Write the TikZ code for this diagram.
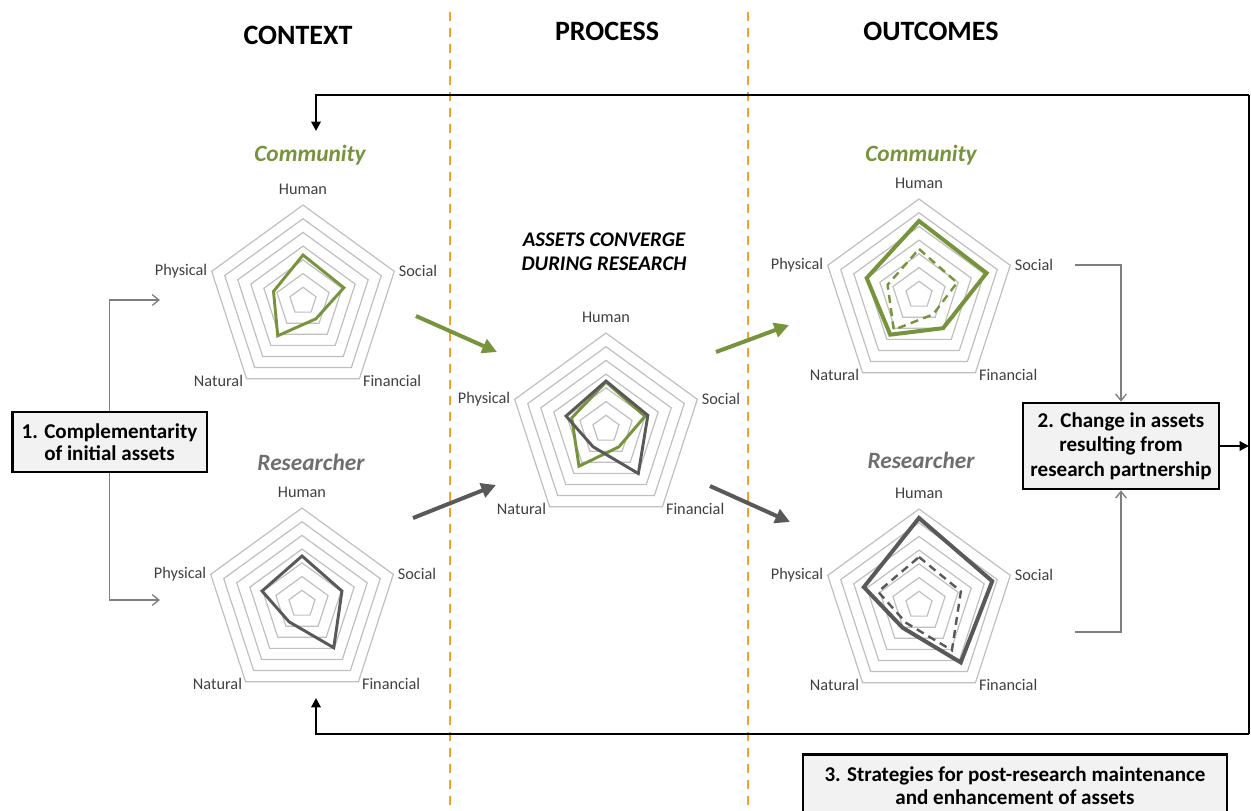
\documentclass[tikz,border=0pt]{standalone}
\usepackage{fontspec}
\setmainfont{Carlito}
\usetikzlibrary{arrows.meta,calc}

\definecolor{olive}{HTML}{77933C}
\definecolor{slate}{HTML}{595959}
\definecolor{ringgray}{HTML}{BFBFBF}
\definecolor{labelgray}{HTML}{404040}
\definecolor{titlegray}{HTML}{6E6E6E}
\definecolor{divorange}{HTML}{F7A032}
\definecolor{boxfill}{HTML}{F2F2F2}
\definecolor{linkgray}{HTML}{7F7F7F}

% radius of a radar chart and of one grid step (px)
\newcommand{\chartR}{96}
\newcommand{\chartU}{13.714}

\tikzset{
  ringline/.style={draw=ringgray, line width=0.9pt},
  axislabel/.style={font=\fontsize{12.2}{14}\selectfont, text=labelgray, inner sep=1pt},
  charttitle/.style={font=\fontsize{17.5}{20}\selectfont\bfseries\itshape},
  heading/.style={font=\fontsize{21}{24}\selectfont\bfseries},
  stagebox/.style={draw=black, line width=2pt, fill=boxfill, align=center, inner sep=2pt},
  link/.style={draw=linkgray, line width=1pt, -{Straight Barb[length=5pt,width=8pt]}},
  loopline/.style={draw=black, line width=1.5pt},
  looparrow/.style={loopline, -{Triangle[length=7pt,width=7pt]}},
  bigarrow/.style={line width=3pt, -{Triangle[length=11pt,width=11pt]}},
  divider/.style={draw=divorange, line width=1.6pt, dash pattern=on 7pt off 5pt},
  initial/.style={line width=2.2pt},
  outcome/.style={line width=3pt},
  before/.style={line width=1.8pt, dash pattern=on 6pt off 4pt},
}

% pentagon grid with seven rings and its five axis labels
\newcommand{\radargrid}[3]{%
  \coordinate (#1) at (#2,#3);
  \foreach \k in {1,...,7}{%
    \draw[ringline] ($(#1)+(-90:{\k*\chartU})$) -- ($(#1)+(-18:{\k*\chartU})$)
      -- ($(#1)+(54:{\k*\chartU})$) -- ($(#1)+(126:{\k*\chartU})$)
      -- ($(#1)+(198:{\k*\chartU})$) -- cycle;}
  \node[axislabel] (#1-hum) at ($(#1)+(0,-\chartR-16)$) {Human};
  \node[axislabel, anchor=west] (#1-soc) at ($(#1)+(-18:\chartR)+(3,0)$) {Social};
  \node[axislabel, anchor=west] (#1-fin) at ($(#1)+(54:\chartR)+(2,2)$) {Financial};
  \node[axislabel, anchor=east] (#1-nat) at ($(#1)+(126:\chartR)+(-2,2)$) {Natural};
  \node[axislabel, anchor=east] (#1-phy) at ($(#1)+(198:\chartR)+(-3,0)$) {Physical};
}

% asset profile: style, chart, human, social, financial, natural, physical (px)
\newcommand{\assets}[7]{%
  \draw[#1] ($(#2)+(-90:#3)$) -- ($(#2)+(-18:#4)$) -- ($(#2)+(54:#5)$)
    -- ($(#2)+(126:#6)$) -- ($(#2)+(198:#7)$) -- cycle;}

\begin{document}
\begin{tikzpicture}[x=0.75pt, y=-0.75pt]
  \useasboundingbox (0,0) rectangle (1251,810);
  \clip (0,0) rectangle (1251,810);

  % column dividers
  \draw[divider] (450,12) -- (450,810);
  \draw[divider] (748,12) -- (748,810);

  % column headings
  \node[heading] (context) at (298,35) {CONTEXT};
  \node[heading] (process) at (607,31) {PROCESS};
  \node[heading] (outcomes) at (931,31) {OUTCOMES};

  % radar charts
  \radargrid{ctxC}{303}{301}
  \radargrid{ctxR}{302}{604}
  \radargrid{mid}{606}{429}
  \radargrid{outC}{919}{295}
  \radargrid{outR}{919}{605}

  \node[charttitle, text=olive] (ctxC-title) at (310,155) {Community};
  \node[charttitle, text=titlegray] (ctxR-title) at (311,462) {Researcher};
  \node[charttitle, text=olive] (outC-title) at (921,155) {Community};
  \node[charttitle, text=titlegray] (outR-title) at (921,460) {Researcher};
  \node[align=center, font=\fontsize{15.6}{18}\selectfont\bfseries\itshape] (converge) at (604,252)
    {ASSETS CONVERGE\\DURING RESEARCH};

  % asset profiles
  \assets{initial, olive}{ctxC}{46}{43}{22}{43}{31}
  \assets{initial, slate}{ctxR}{48}{42}{54}{22}{42}
  \assets{initial, olive}{mid}{47}{41}{22}{46}{36}
  \assets{initial, slate}{mid}{48}{44}{55}{22}{42}
  \assets{before, olive}{outC}{46}{40}{24}{43}{33}
  \assets{outcome, olive}{outC}{74}{71}{41}{49}{55}
  \assets{before, slate}{outR}{48}{44}{56}{22}{43}
  \assets{outcome, slate}{outR}{87}{77}{71}{28}{58}

  % movement between stages
  \coordinate (g1s) at (416,316); \coordinate (g1e) at (497,352);
  \coordinate (k1s) at (413,518); \coordinate (k1e) at (496,485);
  \coordinate (g2s) at (716,352); \coordinate (g2e) at (789,325);
  \coordinate (k2s) at (710,486); \coordinate (k2e) at (790,522);
  \draw[bigarrow, olive] (g1s) -- (g1e);
  \draw[bigarrow, slate] (k1s) -- (k1e);
  \draw[bigarrow, olive] (g2s) -- (g2e);
  \draw[bigarrow, slate] (k2s) -- (k2e);

  % stage boxes
  \node[stagebox, minimum width=146pt, minimum height=45pt,
        font=\fontsize{15.8}{16.5}\selectfont\bfseries] (box1) at (109.5,442)
    {1. Complementarity\\of initial assets};
  \node[stagebox, minimum width=147pt, minimum height=64.5pt,
        font=\fontsize{15.8}{18.5}\selectfont\bfseries] (box2) at (1121,446)
    {2. Change in assets\\resulting from\\research partnership};
  \node[stagebox, anchor=north, minimum width=318pt, minimum height=46.5pt,
        font=\fontsize{15.8}{17.3}\selectfont\bfseries] (box3) at (1015,753)
    {3. Strategies for post-research maintenance\\and enhancement of assets};

  % links from box 1 to the initial charts
  \coordinate (ctxC-in) at (160,300);
  \coordinate (ctxR-in) at (160,600);
  \draw[link] (box1.north) |- (ctxC-in);
  \draw[link] (box1.south) |- (ctxR-in);

  % links from the outcome charts to box 2
  \coordinate (outC-out) at (1075,265);
  \coordinate (outR-out) at (1075,632);
  \draw[link] (outC-out) -| (box2.north);
  \draw[link] (outR-out) -| (box2.south);

  % feedback loop
  \coordinate (loopTR) at (1249,95);
  \coordinate (loopBR) at (1249,734);
  \coordinate (ctxC-top) at (316,131);
  \coordinate (ctxR-bot) at (316,698);
  \draw[loopline] (loopTR) -- (loopBR);
  \draw[looparrow] (loopTR) -| (ctxC-top);
  \draw[looparrow] (loopBR) -| (ctxR-bot);
  \draw[looparrow] (box2.east) -- (box2.east -| loopTR);
\end{tikzpicture}
\end{document}
